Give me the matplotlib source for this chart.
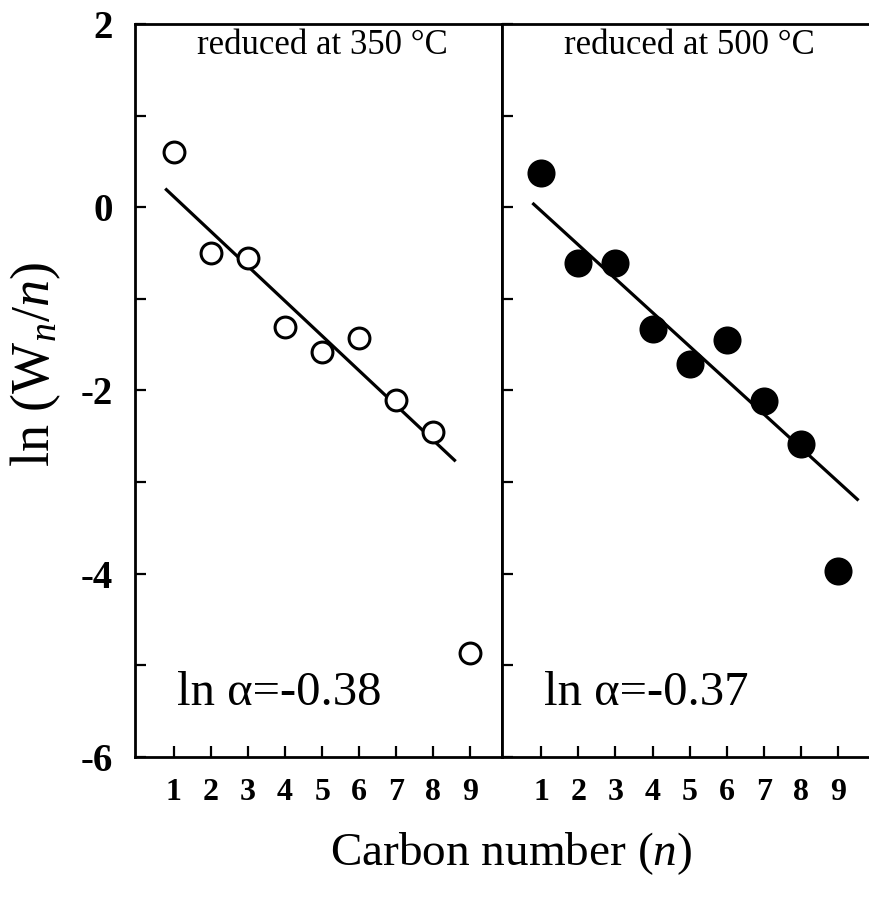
import numpy as np
import matplotlib
matplotlib.use('Agg')
import matplotlib.pyplot as plt

plt.rcParams['font.family'] = ['Liberation Serif', 'DejaVu Serif']
plt.rcParams['mathtext.fontset'] = 'custom'
plt.rcParams['mathtext.rm'] = 'Liberation Serif'
plt.rcParams['mathtext.it'] = 'Liberation Serif:italic'
plt.rcParams['mathtext.bf'] = 'Liberation Serif:bold'

# carbon number n
n = [1, 2, 3, 4, 5, 6, 7, 8, 9]

# ln(Wn/n), catalyst reduced at 350 C (open circles)
ln_w_350 = [0.60, -0.50, -0.56, -1.31, -1.58, -1.43, -2.10, -2.45, -4.87]
# ln(Wn/n), catalyst reduced at 500 C (filled circles)
ln_w_500 = [0.37, -0.61, -0.61, -1.33, -1.71, -1.45, -2.12, -2.58, -3.97]

# ASF fit: slope = ln(alpha), intercept, x range of the drawn line
ln_alpha_350 = -0.38
b_350 = 0.495
fit_x_350 = [0.8, 8.57]
ln_alpha_500 = -0.37
b_500 = 0.33
fit_x_500 = [0.8, 9.51]

titles = ['reduced at 350 \u00b0C', 'reduced at 500 \u00b0C']

fig = plt.figure(figsize=(8.7, 8.99), dpi=100)
ax1 = fig.add_axes([0.155, 0.158, 0.422, 0.8154])
ax2 = fig.add_axes([0.577, 0.158, 0.423, 0.8154])

panels = [
    (ax1, ln_w_350, ln_alpha_350, b_350, fit_x_350, 'white', 15),
    (ax2, ln_w_500, ln_alpha_500, b_500, fit_x_500, 'black', 18),
]

for i, (ax, y, slope, b, fx, fc, ms) in enumerate(panels):
    ax.plot(n, y, 'o', mfc=fc, mec='black', mew=2.2, ms=ms, zorder=3)
    fx = np.array(fx)
    ax.plot(fx, b + slope * fx, color='black', lw=2.3, zorder=2)

    ax.set_xlim(-0.05, 9.85)
    ax.set_ylim(-6, 2)
    ax.set_xticks(n)
    ax.set_xticklabels([str(v) for v in n], fontweight='bold', fontsize=23)
    ax.set_yticks(range(-6, 3))
    ax.tick_params(direction='in', length=8, width=1.6)
    ax.tick_params(axis='x', pad=15)
    ax.tick_params(axis='y', pad=16)
    ax.tick_params(right=False, top=False)
    for s in ax.spines.values():
        s.set_linewidth(2.0)

    ax.text(0.51, 0.971, titles[i], transform=ax.transAxes,
            ha='center', va='center', fontsize=25)
    ax.text(0.115, 0.087, 'ln \u03b1=%.2f' % slope, transform=ax.transAxes,
            ha='left', va='center', fontsize=35)

ax1.set_yticklabels([str(v) if v % 2 == 0 else '' for v in range(-6, 3)],
                    fontweight='bold', fontsize=28)
ax2.set_yticklabels([])
ax2.spines['right'].set_visible(False)

ax1.set_ylabel(r'ln (W$_{n}$/$n$)', fontsize=39)
ax1.yaxis.set_label_coords(-0.195, 0.535)
fig.text(0.587, 0.05, r'Carbon number ($n$)', ha='center', va='center',
         fontsize=34)

fig.savefig('out.png', dpi=100)
